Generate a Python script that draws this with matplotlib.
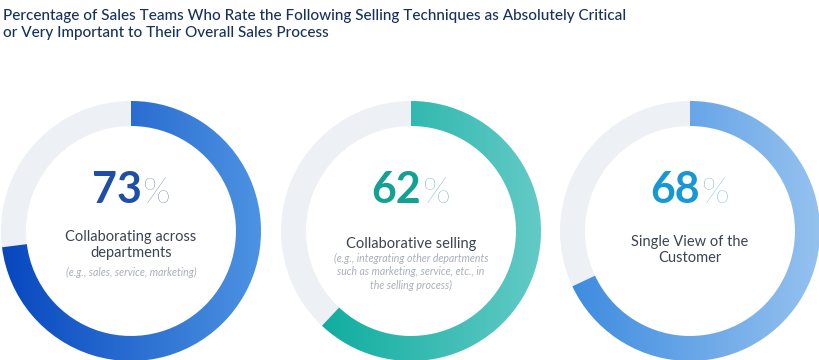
import numpy as np
import matplotlib.pyplot as plt
from matplotlib.patches import Wedge
from matplotlib.colors import LinearSegmentedColormap
from matplotlib.offsetbox import TextArea, HPacker, AnnotationBbox

# data
values = [73, 62, 68]
labels = ["Collaborating across\ndepartments", "Collaborative selling", "Single View of the\nCustomer"]
notes = [
    "(e.g., sales, service, marketing)",
    "(e.g., integrating other departments\nsuch as marketing, service, etc., in\nthe selling process)",
    "",
]
title = ("Percentage of Sales Teams Who Rate the Following Selling Techniques as Absolutely Critical\n"
         "or Very Important to Their Overall Sales Process")

# styling
grad_colors = [("#0747bf", "#4d93e2"), ("#00a898", "#63cac6"), ("#3a89df", "#95c2ef")]
num_colors = ["#1f4ea6", "#12a193", "#1798d5"]
pct_colors = ["#5d7298", "#4fa59e", "#5aa6d0"]
track_color = "#edf0f4"
centers = [(131, 231), (411, 231), (690, 231)]
r_out, ring_w = 130, 25
label_y = [245, 244, 250]
note_y = [272, 272, 0]
font = ["Lato", "DejaVu Sans"]

fig = plt.figure(figsize=(8.2, 3.6), dpi=100)
ax = fig.add_axes([0, 0, 1, 1])
ax.set_xlim(0, 820)
ax.set_ylim(360, 0)
ax.set_aspect("equal")
ax.axis("off")

for i, v in enumerate(values):
    cx, cy = centers[i]
    # background track
    ax.add_patch(Wedge((cx, cy), r_out, 0, 360, width=ring_w, facecolor=track_color, edgecolor="none"))
    # progress arc (clockwise from top; y axis is inverted)
    arc = Wedge((cx, cy), r_out, 270, 270 + v * 3.6, width=ring_w, facecolor="none", edgecolor="none")
    ax.add_patch(arc)
    cmap = LinearSegmentedColormap.from_list("g%d" % i, grad_colors[i])
    grad = np.linspace(0, 1, 256).reshape(1, -1)
    img = ax.imshow(grad, cmap=cmap, extent=[cx - r_out, cx + r_out, cy + r_out, cy - r_out],
                    aspect="auto", interpolation="bilinear", zorder=2)
    img.set_clip_path(arc)

    # big number + percent sign
    num = TextArea(str(v), textprops=dict(fontsize=31, fontweight="bold", color=num_colors[i], family=font))
    pct = TextArea("%", textprops=dict(fontsize=26, fontweight="light", color=pct_colors[i], family=font))
    box = HPacker(children=[num, pct], align="baseline", pad=0, sep=1)
    ax.add_artist(AnnotationBbox(box, (cx, cy - 41), frameon=False, box_alignment=(0.5, 0.5), zorder=3))

    ax.text(cx, label_y[i], labels[i], ha="center", va="center", fontsize=10.5, color="#3b4453",
            family=font, linespacing=1.25, zorder=3)
    if notes[i]:
        ax.text(cx, note_y[i], notes[i], ha="center", va="center", fontsize=7.6, color="#a9b0b9",
                style="italic", family=font, linespacing=1.3, zorder=3)

fig.text(0.004, 0.975, title, ha="left", va="top", fontsize=11, color="#16325c",
         family=font, fontweight="medium", linespacing=1.3)

fig.savefig("out.png", dpi=100)
